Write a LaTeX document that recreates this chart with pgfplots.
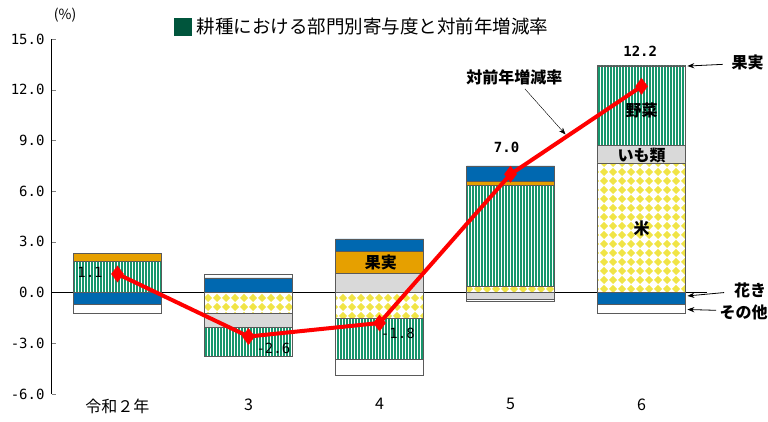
\documentclass[border=0pt]{standalone}
\usepackage{pgfplots}
\pgfplotsset{compat=1.18}
\usepackage{pgfplotstable}
\usepackage{fontspec}
\setmainfont{Noto Sans CJK JP}
\newfontfamily\numfont{DejaVu Sans Mono}
\usetikzlibrary{patterns.meta,arrows.meta}

\definecolor{vegG}{RGB}{22,150,108}
\definecolor{riceY}{RGB}{240,228,70}
\definecolor{fruitO}{RGB}{230,160,0}
\definecolor{flowerB}{RGB}{0,104,176}
\definecolor{imoG}{RGB}{217,217,217}
\definecolor{legG}{RGB}{0,85,60}
\definecolor{edge}{RGB}{90,90,90}

\tikzdeclarepattern{
  name=diamondgrid,
  type=uncolored,
  bounding box={(0pt,0pt) and (8.5pt,8.5pt)},
  tile size={(8.5pt,8.5pt)},
  code={\fill (4.25pt,0pt) -- (8.5pt,4.25pt) -- (4.25pt,8.5pt) -- (0pt,4.25pt) -- cycle;}
}

% contributions by sector (points); negatives stack separately below zero
\pgfplotstableread{
x rice  imo   veg   fruit flower other
0 0     0     1.84  0.50  -0.67  -0.53
1 -1.22 -0.83 -1.72 0     0.87   0.23
2 -1.50 1.15  -2.47 1.30  0.73   -0.95
3 0.35  -0.42 6.00  0.22  0.93   -0.08
4 7.67  1.04  4.70  0.05  -0.67  -0.55
}\parts

\pgfplotsset{
  base/.style={
    scale only axis, width=655pt, height=355pt,
    xmin=-0.5, xmax=4.5, ymin=-6, ymax=15,
    at={(0pt,0pt)}, anchor=south west,
  },
  rice/.style={fill=white, draw=edge, line width=0.5pt, postaction={pattern=diamondgrid, pattern color=riceY}},
  imo/.style={fill=imoG, draw=edge, line width=0.5pt},
  veg/.style={fill=vegG, draw=edge, line width=0.5pt, postaction={pattern={Lines[angle=90,distance=3pt,line width=1pt]}, pattern color=white}},
  fruit/.style={fill=fruitO, draw=edge, line width=0.5pt},
  flower/.style={fill=flowerB, draw=edge, line width=0.5pt},
  other/.style={fill=white, draw=edge, line width=0.5pt},
}
\tikzset{
  lab/.style={font=\fontsize{16}{18}\selectfont\bfseries},
  num/.style={font=\fontsize{14}{16}\selectfont\numfont},
  numb/.style={font=\fontsize{14}{16}\selectfont\numfont\bfseries},
}

\begin{document}
\begin{tikzpicture}
\path[use as bounding box] (-52pt,-27pt) rectangle (716pt,394pt);
\begin{axis}[
  base,
  ybar stacked, stack negative=separate, bar width=88pt,
  axis y line*=left, axis x line*=bottom,
  x axis line style={draw=none},
  major x tick style={draw=none},
  xtick={0,1,2,3,4},
  xticklabels={令和２年,3,4,5,6},
  x tick label style={font=\fontsize{16}{18}\selectfont, yshift=-1pt},
  ytick={-6,-3,0,3,6,9,12,15},
  tick align=inside, major tick length=4pt,
  y tick label style={font=\fontsize{14}{16}\selectfont\numfont, xshift=-4pt,
    /pgf/number format/.cd, fixed, fixed zerofill, precision=1, assume math mode=true},
  y axis line style={line width=1pt},
  clip=false,
]
\addplot[rice]   table[x=x,y=rice]   {\parts};
\addplot[imo]    table[x=x,y=imo]    {\parts};
\addplot[veg]    table[x=x,y=veg]    {\parts};
\addplot[fruit]  table[x=x,y=fruit]  {\parts};
\addplot[flower] table[x=x,y=flower] {\parts};
\addplot[other]  table[x=x,y=other]  {\parts};
\draw[black, line width=1pt] (axis cs:-0.5,0) -- (axis cs:4.5,0);
\end{axis}

\begin{axis}[base, hide axis, clip=false]
\addplot[red, line width=4pt, mark=diamond*, mark size=8pt, mark options={fill=red, draw=red, line width=0.5pt}]
  coordinates {(0,1.1) (1,-2.6) (2,-1.8) (3,7.0) (4,12.2)};
\node[num] at (axis cs:-0.21,1.2) {1.1};
\node[num] at (axis cs:1.19,-3.3) {-2.6};
\node[num] at (axis cs:2.14,-2.4) {-1.8};
\node[numb] at (axis cs:2.97,8.6) {7.0};
\node[numb] at (axis cs:3.99,14.25) {12.2};
\node[lab] at (axis cs:2.01,1.78) {果実};
\node[lab] at (axis cs:4,10.8) {野菜};
\node[lab] at (axis cs:4,8.1) {いも類};
\node[lab] at (axis cs:4,3.8) {米};
\node[lab] at (axis cs:3.03,12.7) {対前年増減率};
\draw[-{Stealth[length=7pt]}, thin] (axis cs:3.11,12.05) -- (axis cs:3.42,9.35);
\node[lab] at (axis cs:4.81,13.6) {果実};
\draw[-{Stealth[length=7pt]}, line width=0.8pt] (axis cs:4.62,13.5) -- (axis cs:4.35,13.4);
\node[lab] at (axis cs:4.83,0.1) {花き};
\draw[-{Stealth[length=7pt]}, line width=0.8pt] (axis cs:4.63,0.0) -- (axis cs:4.35,-0.2);
\node[lab] at (axis cs:4.78,-1.15) {その他};
\draw[-{Stealth[length=7pt]}, line width=0.8pt] (axis cs:4.57,-1.05) -- (axis cs:4.35,-1.0);
\node[font=\fontsize{14}{16}\selectfont] at (rel axis cs:0.02,1.066) {(\%)};
\node[font=\fontsize{18.5}{20}\selectfont] at (rel axis cs:0.472,1.034)
  {\textcolor{legG}{\rule[-2pt]{18pt}{18pt}}\hspace{5pt}耕種における部門別寄与度と対前年増減率};
\end{axis}
\end{tikzpicture}
\end{document}
